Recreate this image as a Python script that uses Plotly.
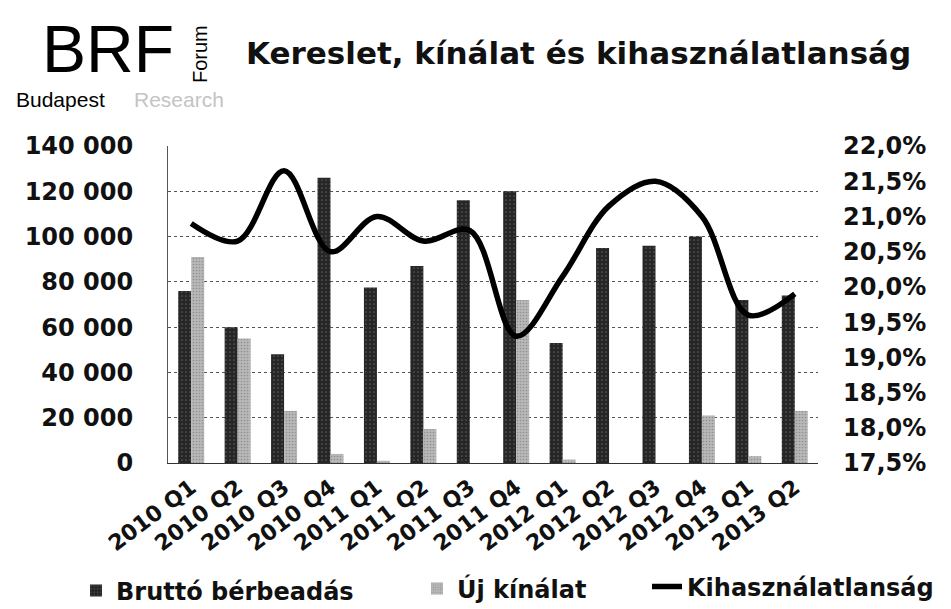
import plotly.graph_objects as go

categories = ["2010 Q1", "2010 Q2", "2010 Q3", "2010 Q4",
              "2011 Q1", "2011 Q2", "2011 Q3", "2011 Q4",
              "2012 Q1", "2012 Q2", "2012 Q3", "2012 Q4",
              "2013 Q1", "2013 Q2"]
brutto = [76000, 60000, 48000, 126000, 77500, 87000, 116000,
          120000, 53000, 95000, 96000, 100000, 72000, 74000]
uj_kinalat = [91000, 55000, 23000, 4000, 1000, 15000, 0,
              72000, 1500, 0, 0, 21000, 3000, 23000]
kihasznalatlansag = [20.9, 20.65, 21.65, 20.5, 21.0, 20.65, 20.8,
                     19.3, 20.15, 21.15, 21.5, 21.0, 19.6, 19.9]

left_ticks = [0, 20000, 40000, 60000, 80000, 100000, 120000, 140000]
left_labels = ["0", "20 000", "40 000", "60 000", "80 000", "100 000", "120 000", "140 000"]
right_ticks = [17.5, 18.0, 18.5, 19.0, 19.5, 20.0, 20.5, 21.0, 21.5, 22.0]
right_labels = [f"{v:.1f}%".replace(".", ",") for v in right_ticks]

W, H = 951, 609
L, R, T, B = 160, 141, 138, 154
PW, PH = W - L - R, H - T - B


def px(x):
    return (x - L) / PW


def py(y):
    return (H - B - y) / PH


FONT = "DejaVu Sans"
bold = dict(family=FONT, weight="bold", color="#111")

fig = go.Figure()
fig.add_trace(go.Bar(
    x=categories, y=brutto, name="Bruttó bérbeadás",
    marker=dict(color="#262626", line=dict(width=0),
                pattern=dict(shape=".", fgcolor="#8a8a8a", size=4, solidity=0.15)),
    legend="legend"))
fig.add_trace(go.Bar(
    x=categories, y=uj_kinalat, name="Új kínálat",
    marker=dict(color="#b8b8b8", line=dict(width=0),
                pattern=dict(shape=".", fgcolor="#6a6a6a", size=3, solidity=0.25)),
    legend="legend2"))
fig.add_trace(go.Scatter(
    x=categories, y=kihasznalatlansag, name="Kihasználatlanság",
    mode="lines", line=dict(color="#000", width=5.5, shape="spline", smoothing=1.0),
    yaxis="y2", legend="legend3"))

legend_common = dict(orientation="h", font=dict(size=24, **bold),
                     bgcolor="rgba(0,0,0,0)", yanchor="middle", xanchor="left")
fig.update_layout(
    width=W, height=H,
    margin=dict(l=L, r=R, t=T, b=B, autoexpand=False),
    paper_bgcolor="white", plot_bgcolor="white",
    barmode="group", bargap=0.44, bargroupgap=0.0,
    showlegend=True,
    legend=dict(x=px(68), y=py(583), **legend_common),
    legend2=dict(x=px(409), y=py(581), **legend_common),
    legend3=dict(x=px(639), y=py(579), **legend_common),
    xaxis=dict(type="category", tickangle=-37, tickfont=dict(size=22, **bold),
               showline=True, linecolor="#333", linewidth=1, ticks="",
               ticklabelstandoff=2, automargin=False),
    yaxis=dict(range=[0, 140000], tickvals=left_ticks, ticktext=left_labels,
               tickfont=dict(size=24, **bold), showgrid=True, gridcolor="#555",
               griddash="dot", gridwidth=1, zeroline=False,
               showline=True, linecolor="#555", linewidth=1,
               ticklabelstandoff=29, automargin=False),
    yaxis2=dict(range=[17.5, 22.0], tickvals=right_ticks, ticktext=right_labels,
                overlaying="y", side="right", showgrid=False, zeroline=False,
                tickfont=dict(size=24, **bold), ticklabelstandoff=24,
                automargin=False),
    annotations=[
        dict(text="Kereslet, kínálat és kihasználatlanság", xref="paper", yref="paper",
             x=px(236), y=py(45), xanchor="left", yanchor="middle", showarrow=False,
             font=dict(size=31, **bold)),
        dict(text="BRF", xref="paper", yref="paper", x=px(32), y=py(41),
             xanchor="left", yanchor="middle", showarrow=False,
             font=dict(family="Liberation Sans", size=66, color="#000")),
        dict(text="Budapest", xref="paper", yref="paper", x=px(6), y=py(91),
             xanchor="left", yanchor="middle", showarrow=False,
             font=dict(family="Liberation Sans", size=21, color="#000")),
        dict(text="Research", xref="paper", yref="paper", x=px(124), y=py(91),
             xanchor="left", yanchor="middle", showarrow=False,
             font=dict(family="Liberation Sans", size=21, color="#c4c4c4")),
        dict(text="Forum", xref="paper", yref="paper", x=px(192), y=py(46),
             xanchor="center", yanchor="middle", showarrow=False, textangle=-90,
             font=dict(family="Liberation Sans", size=20, color="#000")),
    ],
)

fig.write_html("out.html")
